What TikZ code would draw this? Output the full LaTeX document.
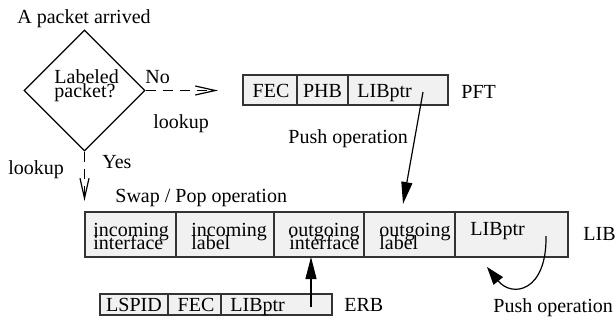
\documentclass[tikz,border=0pt]{standalone}
\usepackage{fontspec}
\setmainfont{Liberation Serif}
\usetikzlibrary{shapes.geometric,arrows.meta}
\definecolor{cellfill}{gray}{0.945}
\definecolor{edge}{gray}{0.2}
\begin{document}
\begin{tikzpicture}[x=0.5pt,y=-0.5pt,
  every node/.style={font=\fontsize{10}{12}\selectfont},
  cell/.style 2 args={draw=edge, line width=0.6pt, fill=cellfill, inner sep=0pt,
    outer sep=0pt, minimum width=#1*0.5pt, minimum height=#2*0.5pt},
  lbl/.style={inner sep=0pt, anchor=base west},
  clbl/.style={inner sep=0pt, anchor=base},
  flow/.style={line width=0.6pt, dash pattern=on 5pt off 3.5pt,
    -{Straight Barb[length=10pt,width=4.5pt]}},
  push/.style={line width=0.6pt, -{Triangle[length=11pt,width=5.5pt]}},
  looparrow/.style={line width=0.6pt, -{Triangle[length=9pt,width=6pt]}}
]
\useasboundingbox (0,0) rectangle (616,327);

% decision
\node[lbl] (arrived) at (17,23) {A packet arrived};
\node[diamond, draw=black, line width=0.6pt, minimum width=60.5pt,
  minimum height=60.5pt, inner sep=0pt] (dec) at (84.5,90.5) {};
\node[lbl] (q1) at (54,83) {Labeled};
\node[lbl] (q2) at (54,97.5) {packet?};
\node[lbl] (no) at (145,83) {No};
\node[lbl] (lookno) at (153,128) {lookup};
\node[lbl] (yes) at (102,168) {Yes};
\node[lbl] (lookyes) at (8,174) {lookup};

% PFT table
\node[cell={54}{30}] (pft1) at (270,90) {};
\node[cell={51}{30}] (pft2) at (322.5,90) {};
\node[cell={100}{30}] (pft3) at (398,90) {};
\node[clbl] (pftfec) at (271,97) {FEC};
\node[clbl] (pftphb) at (322.5,97) {PHB};
\node[lbl] (pftptrt) at (357,97) {LIBptr};
\node[lbl] (pftname) at (461,98) {PFT};

\node[lbl] (pushmid) at (288,143) {Push operation};
\node[lbl] (swap) at (115,202) {Swap / Pop operation};

% LIB table
\node[cell={91}{45}] (lib1) at (130.5,234.5) {};
\node[cell={98}{45}] (lib2) at (225,234.5) {};
\node[cell={90}{45}] (lib3) at (319,234.5) {};
\node[cell={91}{45}] (lib4) at (409.5,234.5) {};
\node[cell={113}{45}] (lib5) at (511.5,234.5) {};
\node[lbl] (l1a) at (93,236) {incoming};
\node[lbl] (l1b) at (93,249) {interface};
\node[lbl] (l2a) at (191,236) {incoming};
\node[lbl] (l2b) at (191,249) {label};
\node[lbl] (l3a) at (288,236) {outgoing};
\node[lbl] (l3b) at (289,249) {interface};
\node[lbl] (l4a) at (379,236) {outgoing};
\node[lbl] (l4b) at (379,249) {label};
\node[lbl] (l5a) at (470,235) {LIBptr};
\node[lbl] (libname) at (583,240) {LIB};

% ERB table
\node[cell={68}{21}] (erb1) at (134,304.5) {};
\node[cell={53}{21}] (erb2) at (194.5,304.5) {};
\node[cell={111}{21}] (erb3) at (276.5,304.5) {};
\node[clbl] (erblsp) at (134,311) {LSPID};
\node[clbl] (erbfec) at (196,311) {FEC};
\node[lbl] (erbptrt) at (230,311) {LIBptr};
\node[lbl] (erbname) at (344,311) {ERB};

\node[lbl] (pushright) at (493,312) {Push operation};

% connectors
\coordinate (noend) at (218,90.5);
\coordinate (yesend) at (84.5,201);
\coordinate (pftptr) at (423,92);
\coordinate (pushend) at (403,204);
\coordinate (erbptr) at (311,307);
\coordinate (libptr) at (546,236);
\coordinate (loopend) at (487,267);

\draw[flow] (dec.east) -- (noend);
\draw[flow] (dec.south) -- (yesend);
\draw[push] (pftptr) -- (pushend);
\draw[push] (erbptr) -- (erbptr |- lib3.south);
\draw[looparrow] (libptr) .. controls (547,292) and (512,298) .. (loopend);
\end{tikzpicture}
\end{document}
